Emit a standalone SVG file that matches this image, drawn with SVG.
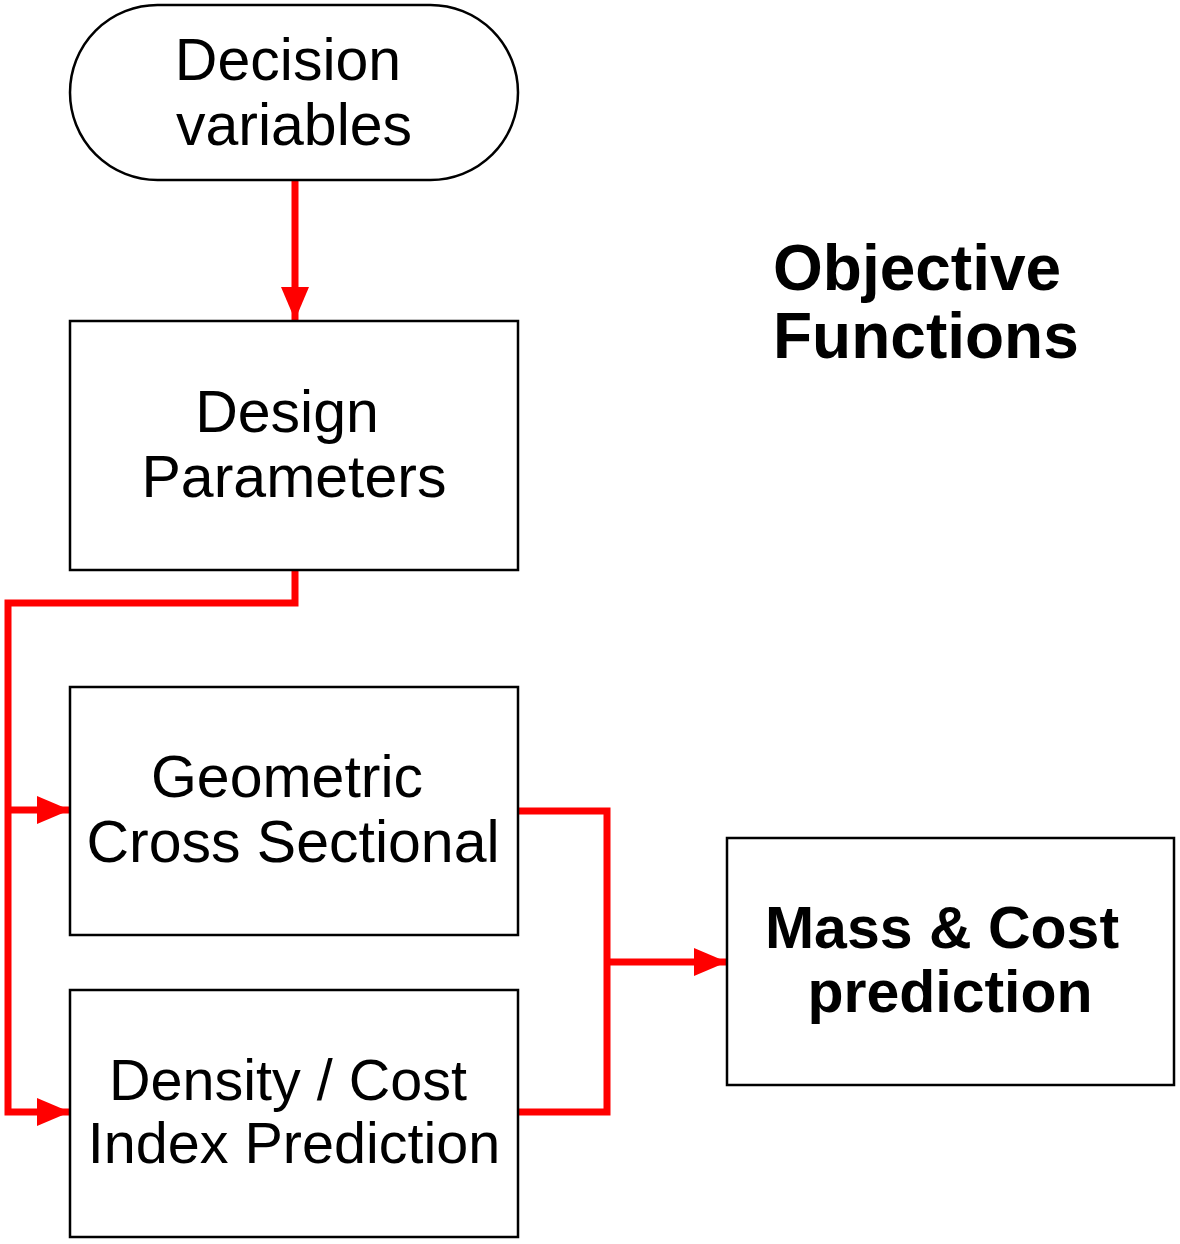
<svg xmlns="http://www.w3.org/2000/svg" width="1180" height="1244" viewBox="0 0 1180 1244">
<defs>
<style>
.box{fill:#fff;stroke:#000;stroke-width:2.5}
.t{font-family:"Liberation Sans",Arial,sans-serif;font-size:59px;fill:#000;text-anchor:middle}
.t58{font-size:57.5px}
.b{font-family:"Liberation Sans",Arial,sans-serif;font-weight:bold;fill:#000}
.c{fill:none;stroke:#ff0000;stroke-width:7;stroke-linejoin:miter}
</style>
<marker id="ah" markerWidth="33" markerHeight="28" refX="33" refY="14" orient="auto" markerUnits="userSpaceOnUse">
<path d="M0,0 L33,14 L0,28 Z" fill="#ff0000"/>
</marker>
</defs>
<rect width="1180" height="1244" fill="#fff"/>
<g id="connectors">
<path class="c" d="M295,180 V320" marker-end="url(#ah)"/>
<path class="c" d="M295,570 V603 H8 V1112 H70" marker-end="url(#ah)"/>
<path class="c" d="M8,810 H70" marker-end="url(#ah)"/>
<path class="c" d="M518,811 H607 V1112 H518"/>
<path class="c" d="M607,962 H727" marker-end="url(#ah)"/>
</g>
<g id="decision">
<rect class="box" x="70" y="5" width="448" height="175" rx="87.5" ry="87.5"/>
<text class="t" x="288" y="80">Decision</text>
<text class="t" x="294" y="145">variables</text>
</g>
<g id="design">
<rect class="box" x="70" y="321" width="448" height="249"/>
<text class="t" x="287" y="432">Design</text>
<text class="t" x="294" y="497">Parameters</text>
</g>
<g id="geometric">
<rect class="box" x="70" y="687" width="448" height="248"/>
<text class="t" x="287" y="797">Geometric</text>
<text class="t" x="293" y="862">Cross Sectional</text>
</g>
<g id="density">
<rect class="box" x="70" y="990" width="448" height="247"/>
<text class="t t58" x="288" y="1100">Density / Cost</text>
<text class="t t58" x="294" y="1163">Index Prediction</text>
</g>
<g id="mass">
<rect class="box" x="727" y="838" width="447" height="247"/>
<text class="b" x="942" y="948" font-size="59" text-anchor="middle">Mass &amp; Cost</text>
<text class="b" x="950" y="1012" font-size="59" text-anchor="middle">prediction</text>
</g>
<g id="objective">
<text class="b" x="773" y="290" font-size="64">Objective</text>
<text class="b" x="773" y="358" font-size="64">Functions</text>
</g>
</svg>
